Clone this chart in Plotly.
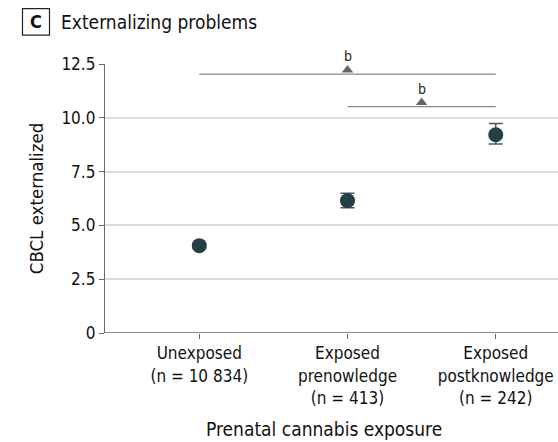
import plotly.graph_objects as go

categories = ["Unexposed<br>(n = 10 834)", "Exposed<br>prenowledge<br>(n = 413)", "Exposed<br>postknowledge<br>(n = 242)"]
means = [4.06, 6.15, 9.21]
ci_upper = [4.16, 6.49, 9.74]
ci_lower = [3.96, 5.82, 8.78]
ytick_vals = [0, 2.5, 5.0, 7.5, 10.0, 12.5]
ytick_text = ["0", "2.5", "5.0", "7.5", "10.0", "12.5"]

# significance brackets: (start index, end index, y level)
bracket_starts = [0, 1]
bracket_ends = [2, 2]
bracket_levels = [12.03, 10.52]
bracket_labels = ["b", "b"]

FONT = "DejaVu Sans Condensed, DejaVu Sans, sans-serif"
W, H = 558, 442
ML, MR, MT, MB = 105, 0, 64, 108.5
YMAX = 12.5
pw = W - ML - MR
ph = H - MT - MB
px_per_unit = ph / YMAX

fig = go.Figure()

xs = list(range(len(categories)))
mids = [(s + e) / 2 for s, e in zip(bracket_starts, bracket_ends)]

for s, e, lvl in zip(bracket_starts, bracket_ends, bracket_levels):
    fig.add_trace(go.Scatter(
        x=[s, e], y=[lvl, lvl], mode="lines",
        line=dict(color="#888888", width=1.3),
        cliponaxis=False, showlegend=False, hoverinfo="skip"))

fig.add_trace(go.Scatter(
    x=mids, y=[lvl + 4 / px_per_unit for lvl in bracket_levels], mode="markers",
    marker=dict(symbol="triangle-up", size=10, color="#666666"),
    cliponaxis=False, showlegend=False, hoverinfo="skip"))

for m, lvl, lab in zip(mids, bracket_levels, bracket_labels):
    fig.add_annotation(x=m, y=lvl, text=lab, showarrow=False,
                       yshift=18, font=dict(size=14, color="#222", family=FONT),
                       xanchor="center", yanchor="middle")

fig.add_trace(go.Scatter(
    x=xs, y=means, mode="markers",
    marker=dict(size=15, color="#263e47"),
    error_y=dict(type="data", symmetric=False,
                 array=[u - m for u, m in zip(ci_upper, means)],
                 arrayminus=[m - l for l, m in zip(ci_lower, means)],
                 color="#555555", thickness=1.5, width=7),
    cliponaxis=False, showlegend=False))

def px_to_paper_x(p):
    return (p - ML) / pw

def px_to_paper_y(p):
    return (H - MB - p) / ph

fig.add_shape(type="rect", xref="paper", yref="paper",
              x0=px_to_paper_x(22.5), x1=px_to_paper_x(49.5),
              y0=px_to_paper_y(35), y1=px_to_paper_y(8.5),
              line=dict(color="#222", width=1.2))
fig.add_annotation(xref="paper", yref="paper",
                   x=px_to_paper_x(36), y=px_to_paper_y(21.8),
                   text="<b>C</b>", showarrow=False,
                   font=dict(size=18, color="#111", family=FONT),
                   xanchor="center", yanchor="middle")
fig.add_annotation(xref="paper", yref="paper",
                   x=px_to_paper_x(59), y=px_to_paper_y(22),
                   text="Externalizing problems", showarrow=False,
                   font=dict(size=19, color="#111", family=FONT),
                   xanchor="left", yanchor="middle")
fig.add_annotation(xref="paper", yref="paper",
                   x=px_to_paper_x(204), y=px_to_paper_y(430),
                   text="Prenatal cannabis exposure", showarrow=False,
                   font=dict(size=19, color="#111", family=FONT),
                   xanchor="left", yanchor="middle")

fig.update_layout(
    width=W, height=H,
    margin=dict(l=ML, r=MR, t=MT, b=MB),
    paper_bgcolor="white", plot_bgcolor="white",
    font=dict(family=FONT, color="#111", size=17),
    xaxis=dict(
        range=[-0.636, 2.42],
        tickvals=xs, ticktext=categories,
        showgrid=False, zeroline=False,
        showline=False,
        ticks="outside", ticklen=5, tickcolor="#666",
        tickfont=dict(size=17),
    ),
    yaxis=dict(
        range=[0, YMAX],
        tickvals=ytick_vals, ticktext=ytick_text,
        showgrid=True, gridcolor="#dddddd", gridwidth=1.5,
        zeroline=False,
        showline=True, linecolor="#666", linewidth=1.3,
        ticks="outside", ticklen=5, tickcolor="#666",
        tickfont=dict(size=17),
        title=dict(text="CBCL externalized", font=dict(size=18.5), standoff=12),
    ),
)
fig.add_hline(y=0, line=dict(color="#666", width=1.3))

fig.write_html("out.html")
